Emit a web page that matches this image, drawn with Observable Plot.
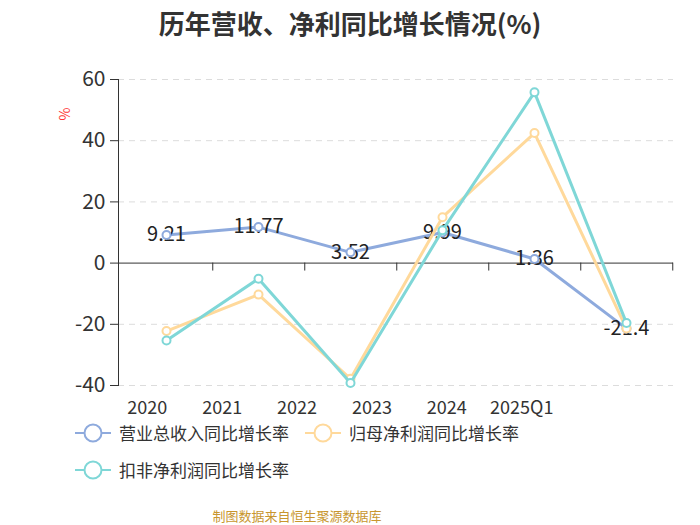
<!DOCTYPE html>
<html>
<head>
<meta charset="utf-8">
<script src="https://cdn.jsdelivr.net/npm/d3@7"></script>
<script src="https://cdn.jsdelivr.net/npm/@observablehq/plot@0.6"></script>
<style>
  body { margin: 0; background: #fff; font-family: "Noto Sans CJK SC", "Noto Sans", sans-serif; }
  #wrap { position: relative; width: 700px; height: 525px; overflow: hidden; background: #fff; }
  #title { position: absolute; left: 0; top: 6px; width: 700px; text-align: center; font-size: 26px; font-weight: bold; color: #333; line-height: 34px; }
  #chart { position: absolute; left: 0; top: 45px; }
  #ylab { position: absolute; left: 58px; top: 104px; color: #ff3333; font-size: 14px; transform: rotate(-90deg); transform-origin: center; line-height: 20px; z-index: 2; }
  .leg { position: absolute; display: flex; align-items: center; font-size: 17px; color: #333; line-height: 24px; }
  .leg svg { margin-right: 8px; }
  #caption { position: absolute; left: 0; top: 506px; width: 594px; text-align: center; font-size: 13px; color: #c8962e; line-height: 20px; }
</style>
</head>
<body>
<div id="wrap">
  <div id="title"></div>
  <div id="chart"></div>
  <div id="ylab">%</div>
  <div id="legend"></div>
  <div id="caption"></div>
</div>
<script>
const titleText = "历年营收、净利同比增长情况(%)";
const captionText = "制图数据来自恒生聚源数据库";
const categories = ["2020", "2021", "2022", "2023", "2024", "2025Q1"];
const revenueGrowth = [9.21, 11.77, 3.52, 9.99, 1.36, -21.4];
const parentNetProfitGrowth = [-22.2, -10.3, -37.8, 15.0, 42.5, -21.4];
const deductedNetProfitGrowth = [-25.3, -5.1, -39.2, 10.7, 55.8, -19.6];
const seriesNames = ["营业总收入同比增长率", "归母净利润同比增长率", "扣非净利润同比增长率"];
const seriesColors = ["#8eaadd", "#ffd99b", "#7fd7d7"];
const yTicks = [-40, -20, 0, 20, 40, 60];

const rows = categories.map((c, i) => ({
  cat: c,
  rev: revenueGrowth[i],
  parent: parentNetProfitGrowth[i],
  ded: deductedNetProfitGrowth[i]
}));

document.getElementById("title").textContent = titleText;
document.getElementById("caption").textContent = captionText;

const W = 700, H = 380, ML = 118, MR = 27, MT = 34, MB = 40;
const step = (W - ML - MR) / categories.length;
const FF = "Noto Sans CJK SC, sans-serif";

function seriesMarks(key, color, withLabels) {
  const m = [
    Plot.line(rows, {x: "cat", y: key, stroke: color, strokeWidth: 3}),
  ];
  if (withLabels) {
    m.push(Plot.text(rows, {x: "cat", y: key, text: d => String(d[key]), fontSize: 20, fill: "#222", fontFamily: FF}));
  }
  m.push(Plot.dot(rows, {x: "cat", y: key, r: 4, fill: "white", stroke: color, strokeWidth: 2}));
  return m;
}

const xLabelMarks = categories.map((c, i) =>
  Plot.text([c], {x: d => d, y: -40, dy: 23, dx: -19.25 - i * 17.1, fontSize: 18, fill: "#333", fontFamily: FF})
);

const chart = Plot.plot({
  width: W, height: H,
  marginLeft: ML, marginRight: MR, marginTop: MT, marginBottom: MB,
  style: {fontFamily: FF, overflow: "visible"},
  x: {type: "point", domain: categories, padding: 0.5, axis: null},
  y: {domain: [-40, 60], axis: null},
  marks: [
    Plot.ruleY(yTicks.filter(t => t !== 0), {stroke: "#dcdcdc", strokeDasharray: "6,5", strokeWidth: 1}),
    Plot.axisY({ticks: yTicks, tickFormat: d => String(d), tickSize: 8, tickPadding: 5, fontSize: 21, color: "#333", label: null}),
    Plot.frame({anchor: "left", stroke: "#333"}),
    Plot.ruleY([0], {stroke: "#333", strokeWidth: 1}),
    Plot.ruleX(categories, {x: d => d, y1: 0, y2: -2.6, dx: step / 2, stroke: "#333"}),
    ...xLabelMarks,
    ...seriesMarks("rev", seriesColors[0], true),
    ...seriesMarks("parent", seriesColors[1], false),
    ...seriesMarks("ded", seriesColors[2], false)
  ]
});
document.getElementById("chart").appendChild(chart);

// legend
const legendPos = [[75, 421], [305, 421], [75, 458]];
const legend = document.getElementById("legend");
seriesNames.forEach((name, i) => {
  const div = document.createElement("div");
  div.className = "leg";
  div.style.left = legendPos[i][0] + "px";
  div.style.top = legendPos[i][1] + "px";
  div.innerHTML = `<svg width="36" height="22"><line x1="0" y1="11" x2="36" y2="11" stroke="${seriesColors[i]}" stroke-width="2"/><circle cx="18" cy="11" r="8.5" fill="white" stroke="${seriesColors[i]}" stroke-width="2"/></svg><span>${name}</span>`;
  legend.appendChild(div);
});
</script>
</body>
</html>
